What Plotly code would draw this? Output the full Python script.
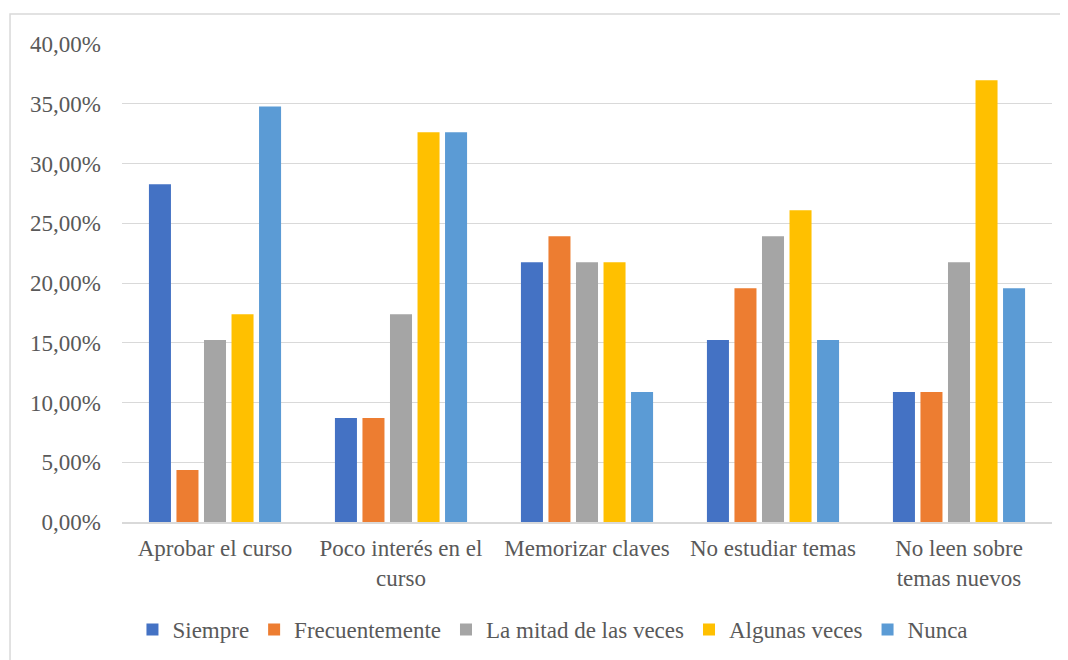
import plotly.graph_objects as go

# Categorías y valores (proporciones)
categorias = ["Aprobar el curso", "Poco interés en el<br>curso", "Memorizar claves",
              "No estudiar temas", "No leen sobre<br>temas nuevos"]
series = ["Siempre", "Frecuentemente", "La mitad de las veces", "Algunas veces", "Nunca"]
colores = ["#4472C4", "#ED7D31", "#A5A5A5", "#FFC000", "#5B9BD5"]

siempre = [0.2826, 0.0870, 0.2174, 0.1522, 0.1087]
frecuentemente = [0.0435, 0.0870, 0.2391, 0.1957, 0.1087]
mitad = [0.1522, 0.1739, 0.2174, 0.2391, 0.2174]
algunas = [0.1739, 0.3261, 0.2174, 0.2609, 0.3696]
nunca = [0.3478, 0.3261, 0.1087, 0.1522, 0.1957]
valores = [siempre, frecuentemente, mitad, algunas, nunca]

fig = go.Figure()
for nombre, vals, color in zip(series, valores, colores):
    fig.add_trace(go.Bar(
        x=categorias, y=vals, name=nombre,
        marker=dict(color=color, line=dict(width=0))
    ))

fuente = dict(family="Liberation Serif, Times New Roman, serif", size=23, color="#595959")

# la página añade 8 px de margen al cuerpo, se compensa aquí
fig.update_layout(
    width=1060, height=652,
    margin=dict(l=114, r=16, t=36, b=138, autoexpand=False),
    paper_bgcolor="white", plot_bgcolor="white",
    font=fuente,
    separators=",.",
    barmode="group", bargap=0.26, bargroupgap=0.2,
    showlegend=True,
    legend=dict(orientation="h", x=0.4634, xanchor="center", y=-0.18, yanchor="top",
                font=fuente, itemwidth=30, traceorder="normal"),
    shapes=[dict(type="rect", xref="paper", yref="paper",
                 x0=-0.1204, x1=1.03, y0=-0.3, y1=1.0628,
                 line=dict(color="#D9D9D9", width=1.5), fillcolor="rgba(0,0,0,0)",
                 layer="below")]
)

fig.update_yaxes(range=[0, 0.40], dtick=0.05, tickformat=".2%",
                 showgrid=True, gridcolor="#D9D9D9", gridwidth=1,
                 zeroline=False, showline=False, ticks="", ticklabelstandoff=20)
fig.update_xaxes(showline=True, linecolor="#D9D9D9", linewidth=1.5, ticks="",
                 showgrid=False, tickangle=0, ticklabelstandoff=5)

fig.write_html("out.html")
